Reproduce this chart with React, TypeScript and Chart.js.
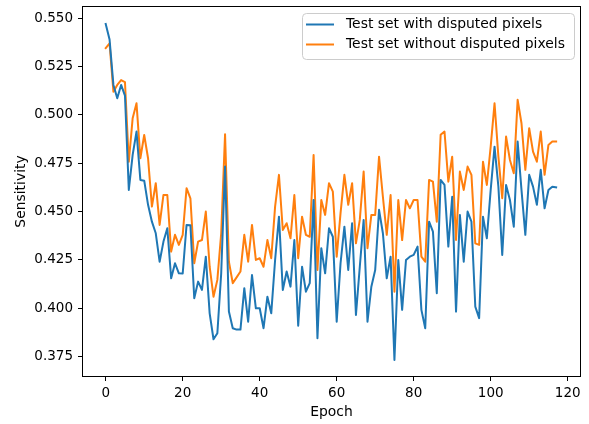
import React, { useEffect, useRef } from "react";
import { Chart, registerables } from "chart.js";

Chart.register(...registerables);

const seriesNames = ["Test set with disputed pixels", "Test set without disputed pixels"];
const seriesColors = ["#1f77b4", "#ff7f0e"];

const withDisputed = [
  0.547, 0.539, 0.5155, 0.5086, 0.5155, 0.510, 0.4612, 0.4793, 0.4914, 0.4664,
  0.466, 0.4535, 0.4448, 0.4388, 0.4241, 0.4345, 0.4414, 0.4155, 0.4233, 0.4181,
  0.418, 0.4431, 0.443, 0.4052, 0.4138, 0.4095, 0.4267, 0.3974, 0.384, 0.3871,
  0.4181, 0.4733, 0.3983, 0.3897, 0.389, 0.389, 0.4104, 0.3931, 0.4172, 0.400,
  0.400, 0.3897, 0.406, 0.3974, 0.425, 0.4474, 0.4095, 0.419, 0.4112, 0.4353,
  0.391, 0.4215, 0.4086, 0.413, 0.456, 0.3845, 0.4311, 0.4181, 0.4414, 0.437,
  0.3931, 0.4233, 0.4422, 0.4198, 0.444, 0.3966, 0.4215, 0.4457, 0.3931, 0.4112,
  0.4198, 0.4509, 0.4388, 0.4155, 0.4267, 0.3733, 0.425, 0.3992, 0.425, 0.4267,
  0.4276, 0.4319, 0.3992, 0.3897, 0.4448, 0.4396, 0.4078, 0.4664, 0.4638, 0.4319,
  0.4577, 0.3983, 0.4483, 0.4241, 0.45, 0.4448, 0.4009, 0.3949, 0.4474, 0.4362,
  0.4612, 0.4836, 0.4629, 0.4276, 0.4638, 0.456, 0.4422, 0.4862, 0.4612, 0.438,
  0.469, 0.4629, 0.4535, 0.4716, 0.4517, 0.4612, 0.4629, 0.4626,
];

const withoutDisputed = [
  0.5345, 0.537, 0.512, 0.5155, 0.518, 0.517, 0.4758, 0.4983, 0.506, 0.4776,
  0.4896, 0.4776, 0.4526, 0.4647, 0.4431, 0.4586, 0.4586, 0.4293, 0.438, 0.4328,
  0.438, 0.4621, 0.4569, 0.4233, 0.4345, 0.4353, 0.45, 0.4215, 0.406, 0.4147,
  0.4388, 0.490, 0.4241, 0.413, 0.416, 0.419, 0.438, 0.4241, 0.4431, 0.425,
  0.4259, 0.4215, 0.4353, 0.4259, 0.4526, 0.469, 0.4405, 0.444, 0.4362, 0.4586,
  0.4259, 0.4474, 0.438, 0.437, 0.4793, 0.4198, 0.456, 0.4483, 0.4647, 0.4603,
  0.4267, 0.4492, 0.469, 0.4535, 0.4647, 0.4336, 0.4457, 0.4707, 0.4311, 0.4483,
  0.4483, 0.4784, 0.4577, 0.438, 0.4586, 0.4086, 0.456, 0.4353, 0.456, 0.4517,
  0.456, 0.456, 0.4267, 0.4241, 0.4664, 0.4655, 0.4448, 0.4897, 0.4914, 0.4655,
  0.4784, 0.4353, 0.4707, 0.4612, 0.4733, 0.469, 0.4336, 0.4328, 0.4758, 0.4638,
  0.4836, 0.506, 0.4784, 0.4569, 0.4888, 0.4767, 0.4698, 0.5078, 0.4957, 0.4716,
  0.4931, 0.481, 0.4758, 0.4914, 0.469, 0.4845, 0.4862, 0.4862,
];

const epochs = withDisputed.map((_, i) => i);
const xTicks = [0, 20, 40, 60, 80, 100, 120];
const yTicks = [0.375, 0.4, 0.425, 0.45, 0.475, 0.5, 0.525, 0.55];

const FONT = "'DejaVu Sans', 'Liberation Sans', sans-serif";

const framePlugin = {
  id: "frame",
  afterDatasetsDraw(chart: any) {
    const { ctx, chartArea: a } = chart;
    ctx.save();
    ctx.strokeStyle = "#000";
    ctx.lineWidth = 1;
    ctx.strokeRect(Math.round(a.left) - 0.5, Math.round(a.top) - 0.5, Math.round(a.right - a.left) + 1, Math.round(a.bottom - a.top) + 1);
    ctx.restore();
  },
};

const legendPlugin = {
  id: "mplLegend",
  afterDraw(chart: any) {
    const { ctx } = chart;
    const x = 302.5, y = 13.5, w = 272, h = 46, r = 4;
    ctx.save();
    ctx.beginPath();
    ctx.moveTo(x + r, y);
    ctx.lineTo(x + w - r, y);
    ctx.quadraticCurveTo(x + w, y, x + w, y + r);
    ctx.lineTo(x + w, y + h - r);
    ctx.quadraticCurveTo(x + w, y + h, x + w - r, y + h);
    ctx.lineTo(x + r, y + h);
    ctx.quadraticCurveTo(x, y + h, x, y + h - r);
    ctx.lineTo(x, y + r);
    ctx.quadraticCurveTo(x, y, x + r, y);
    ctx.closePath();
    ctx.fillStyle = "rgba(255,255,255,0.8)";
    ctx.fill();
    ctx.strokeStyle = "#cccccc";
    ctx.lineWidth = 1;
    ctx.stroke();
    ctx.font = `13.9px ${FONT}`;
    ctx.textBaseline = "middle";
    ctx.textAlign = "left";
    seriesNames.forEach((name, i) => {
      const cy = 24.5 + i * 20;
      ctx.strokeStyle = seriesColors[i];
      ctx.lineWidth = 2;
      ctx.beginPath();
      ctx.moveTo(306, cy);
      ctx.lineTo(334, cy);
      ctx.stroke();
      ctx.fillStyle = "#000";
      ctx.fillText(name, 346, cy);
    });
    ctx.restore();
  },
};

export default function App() {
  const ref = useRef<HTMLCanvasElement | null>(null);

  useEffect(() => {
    if (!ref.current) return;
    const chart = new Chart(ref.current, {
      type: "line",
      data: {
        datasets: [withDisputed, withoutDisputed].map((vals, i) => ({
          label: seriesNames[i],
          data: vals.map((v, j) => ({ x: epochs[j], y: v })),
          borderColor: seriesColors[i],
          backgroundColor: seriesColors[i],
          borderWidth: 2,
          pointRadius: 0,
          tension: 0,
          fill: false,
          borderJoinStyle: "round" as const,
          borderCapStyle: "square" as const,
        })),
      },
      options: {
        animation: false,
        responsive: false,
        events: [],
        layout: { padding: { left: 0, top: 7, right: 9, bottom: 0 } },
        plugins: { legend: { display: false }, tooltip: { enabled: false } },
        scales: {
          x: {
            type: "linear",
            min: -5.9,
            max: 123.2,
            afterBuildTicks: (s: any) => { s.ticks = xTicks.map((v) => ({ value: v })); },
            afterFit: (s: any) => { s.height = 48; s.paddingLeft = 0; s.paddingRight = 0; },
            grid: { drawOnChartArea: false, drawTicks: true, tickLength: 5, tickColor: "#000", tickWidth: 1 },
            border: { display: false },
            ticks: { color: "#000", font: { family: FONT, size: 13.5 }, padding: 4.5, maxRotation: 0, callback: (v: any) => String(v) },
            title: { display: true, text: "Epoch", color: "#000", font: { family: FONT, size: 13.9 }, padding: { top: 0, bottom: 3.5 } },
          },
          y: {
            type: "linear",
            min: 0.365,
            max: 0.5558,
            afterBuildTicks: (s: any) => { s.ticks = yTicks.map((v) => ({ value: v })); },
            afterFit: (s: any) => { s.width = 83; s.paddingTop = 0; s.paddingBottom = 0; },
            grid: { drawOnChartArea: false, drawTicks: true, tickLength: 5, tickColor: "#000", tickWidth: 1 },
            border: { display: false },
            ticks: { color: "#000", font: { family: FONT, size: 13.5 }, padding: 5, callback: (v: any) => Number(v).toFixed(3) },
            title: { display: true, text: "Sensitivity", color: "#000", font: { family: FONT, size: 13.9 }, padding: { top: 12.6, bottom: 0 } },
          },
        },
      },
      plugins: [framePlugin, legendPlugin],
    });
    return () => chart.destroy();
  }, []);

  return (
    <div style={{ position: "fixed", left: 0, top: 0, width: 589, height: 424, background: "#fff" }}>
      <canvas ref={ref} width={589} height={424} style={{ display: "block" }} />
    </div>
  );
}
